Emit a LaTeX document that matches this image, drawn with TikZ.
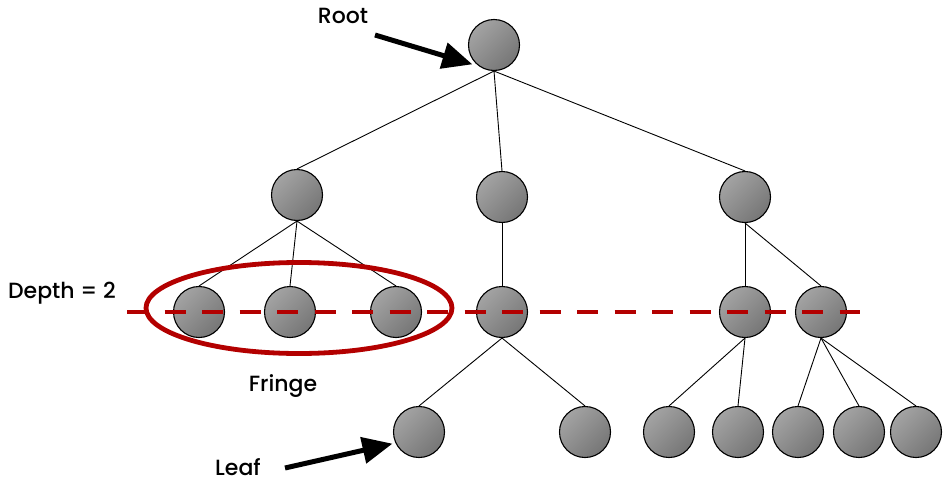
\documentclass[tikz,border=0pt]{standalone}
\usepackage{fontspec}
\setmainfont{Poppins}[UprightFont=* Medium]
\usetikzlibrary{arrows.meta}
\definecolor{nodelight}{HTML}{A3A3A3}
\definecolor{nodedark}{HTML}{767676}
\definecolor{depthred}{HTML}{B30000}
\tikzset{
  vertex/.style={circle, draw=black, line width=1.1pt, minimum size=51pt, inner sep=0pt,
    top color=nodelight, bottom color=nodedark, shading angle=45},
  branch/.style={line width=0.9pt},
  pointer/.style={line width=5pt, -{Triangle[length=30pt, width=26pt]}},
  label/.style={font=\fontsize{22}{25}\selectfont}
}
\begin{document}
\begin{tikzpicture}[x=1pt, y=-1pt]
      \useasboundingbox (0,0) rectangle (948,482);
      % tree
      \node[vertex] (root) at (494,45) {};
      \node[vertex] (a) at (297,195) {};
      \node[vertex] (b) at (502,197) {};
      \node[vertex] (c) at (745,197) {};
      \foreach \n/\x in {a1/199, a2/290, a3/396, b1/502, c1/745, c2/821}
          \node[vertex] (\n) at (\x,312) {};
      \foreach \n/\x in {b1a/419, b1b/585, c1a/669, c1b/738, c2a/798, c2b/859, c2c/916}
          \node[vertex] (\n) at (\x,432) {};

      \foreach \p/\c in {root/a, root/b, root/c, a/a1, a/a2, a/a3, b/b1, c/c1, c/c2,
                         b1/b1a, b1/b1b, c1/c1a, c1/c1b, c2/c2a, c2/c2b, c2/c2c}
          \draw[branch] (\p.south) -- (\c.north);

      % depth line and fringe
      \coordinate (dstart) at (127,312);
      \coordinate (dend) at (860,312);
      \draw[depthred, line width=4.8pt, dash pattern=on 21pt off 16.5pt] (dstart) -- (dend);
      \draw[depthred, line width=4.8pt] (299,308) ellipse (153 and 45.5);

      % labels
      \node[label] (rootlbl) at (343,16) {Root};
      \node[label] (depthlbl) at (62,293) {Depth = 2};
      \node[label] (fringelbl) at (283,386) {Fringe};
      \node[label] (leaflbl) at (238,467) {Leaf};

      \coordinate (roottail) at (375,35);
      \coordinate (leaftail) at (285,468);
      \draw[pointer, shorten >=7pt] (roottail) -- (root.235);
      \draw[pointer, shorten >=3pt] (leaftail) -- (b1a.205);
\end{tikzpicture}
\end{document}
